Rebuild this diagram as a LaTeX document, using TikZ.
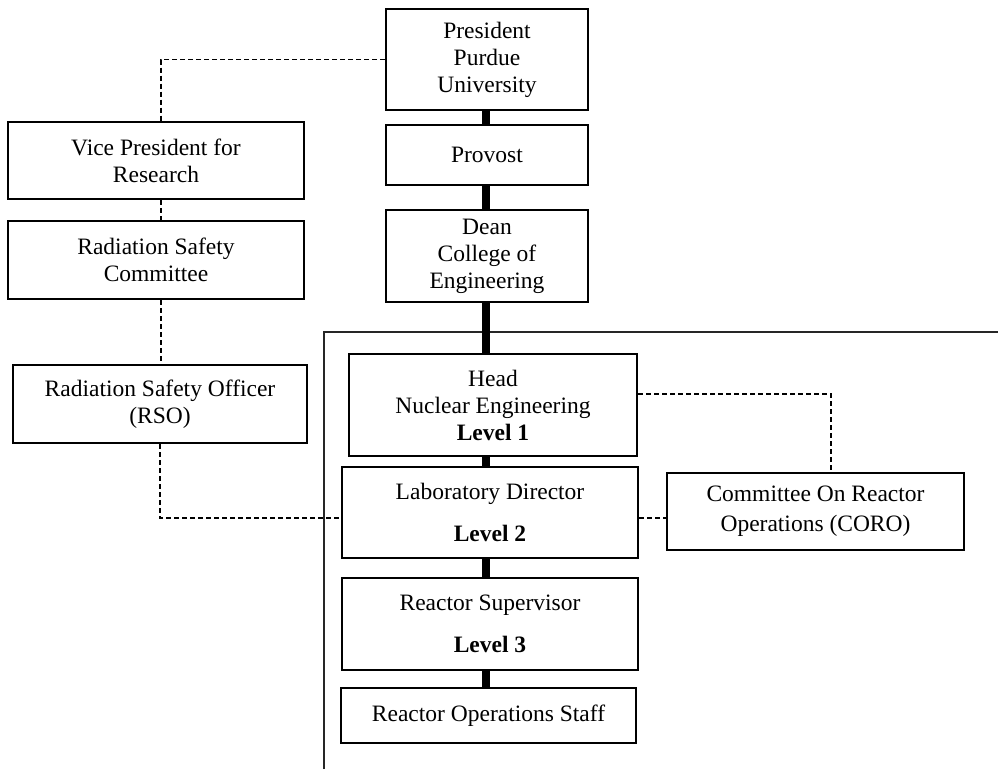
\documentclass[tikz,border=0pt]{standalone}
\usepackage{fontspec}
\setmainfont{Liberation Serif}
\begin{document}
\begin{tikzpicture}[x=1pt,y=-1pt,
  orgbox/.style={draw=black, line width=2pt, fill=white, inner sep=0pt,
    align=center, font=\fontsize{23.5}{27}\selectfont},
  solidlink/.style={line width=7.5pt, black},
  dottedlink/.style={line width=1.1pt, dash pattern=on 5pt off 3pt, black},
  frameline/.style={line width=1.3pt, black!85}]
\useasboundingbox (0,0) rectangle (998,769);

% unit frame around the department
\coordinate (fb) at (324,769);
\coordinate (fc) at (324,332);
\coordinate (fr) at (998,332);
\draw[frameline] (fb) -- (fc) -- (fr);

% main chain
\node[orgbox, minimum width=202pt, minimum height=101pt] (pres) at (487,59.5) {President\\Purdue\\University};
\node[orgbox, minimum width=202pt, minimum height=60pt] (prov) at (487,155) {Provost};
\node[orgbox, minimum width=202pt, minimum height=92pt] (dean) at (487,256) {Dean\\College of\\Engineering};
\node[orgbox, minimum width=288pt, minimum height=102pt] (head) at (493,405) {\raisebox{-4pt}{\parbox{280pt}{\centering Head\\Nuclear Engineering\\\textbf{Level 1}}}};
\node[orgbox, minimum width=296pt, minimum height=91pt] (lab) at (490,512.5) {Laboratory Director\\[15pt]\textbf{Level 2}};
\node[orgbox, minimum width=296pt, minimum height=92pt] (sup) at (490,624) {Reactor Supervisor\\[15pt]\textbf{Level 3}};
\node[orgbox, minimum width=295pt, minimum height=55pt] (staff) at (488.5,715.5) {Reactor Operations Staff};

% left column
\node[orgbox, minimum width=296pt, minimum height=77pt] (vp) at (156,160.5) {Vice President for\\Research};
\node[orgbox, minimum width=296pt, minimum height=78pt] (rsc) at (156,260) {Radiation Safety\\Committee};
\node[orgbox, minimum width=294pt, minimum height=78pt] (rso) at (160,404) {Radiation Safety Officer\\(RSO)};

% committee
\node[orgbox, minimum width=297pt, minimum height=77pt, font=\fontsize{23.5}{30}\selectfont] (coro) at (815.5,511.5) {Committee On Reactor\\Operations (CORO)};

% line of authority
\coordinate (cx) at (486,0);
\draw[solidlink] (pres.south -| cx) -- (prov.north -| cx);
\draw[solidlink] (prov.south -| cx) -- (dean.north -| cx);
\draw[solidlink] (dean.south -| cx) -- (head.north -| cx);
\draw[solidlink] (head.south -| cx) -- (lab.north -| cx);
\draw[solidlink] (lab.south -| cx) -- (sup.north -| cx);
\draw[solidlink] (sup.south -| cx) -- (staff.north -| cx);

% advisory and reporting links
\coordinate (lx) at (161,0);
\draw[dottedlink] (pres.west) -| (vp.north -| lx);
\draw[dottedlink] (vp.south -| lx) -- (rsc.north -| lx);
\draw[dottedlink] (rsc.south -| lx) -- (rso.north -| lx);
\draw[dottedlink] (rso.south) |- ([yshift=-5.5pt]lab.west);
\draw[dottedlink] ([yshift=11pt]head.east) -| ([xshift=15.5pt]coro.north);
\draw[dottedlink] ([yshift=-5.5pt]lab.east) -- ([yshift=-5.5pt]lab.east -| coro.west);
\end{tikzpicture}
\end{document}
